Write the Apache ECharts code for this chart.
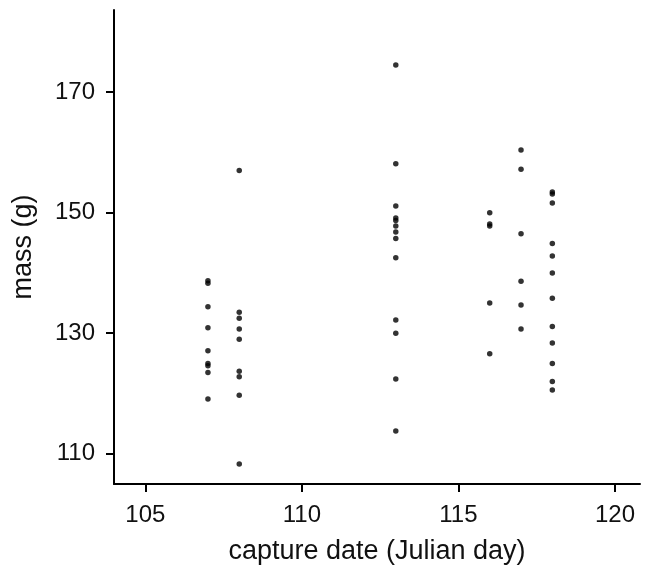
<!DOCTYPE html>
<html>
<head>
<meta charset="utf-8">
<script src="https://cdn.jsdelivr.net/npm/echarts@6/dist/echarts.min.js"></script>
<style>
 html,body{margin:0;padding:0;background:#fff;}
 #chart{width:645px;height:577px;}
</style>
</head>
<body>
<div id="chart"></div>
<script>
 // capture day and mass (g) for each bird, one list per day
 var days = [107, 108, 113, 116, 117, 118];
 var mass107 = [138.7, 138.3, 134.4, 130.9, 127.1, 125.0, 124.6, 123.5, 119.1];
 var mass108 = [157.0, 133.5, 132.5, 130.7, 129.0, 123.7, 122.8, 119.7, 108.3];
 var mass113 = [174.5, 158.1, 151.1, 149.1, 148.7, 147.8, 146.8, 145.7, 142.5, 132.2, 130.0, 122.4, 113.8];
 var mass116 = [150.0, 148.1, 147.8, 135.0, 126.6];
 var mass117 = [160.4, 157.2, 146.5, 138.6, 134.7, 130.7];
 var mass118 = [153.4, 153.1, 151.6, 144.9, 142.8, 140.0, 135.8, 131.1, 128.4, 125.0, 122.0, 120.6];
 var xTicks = [105, 110, 115, 120];
 var yTicks = [110, 130, 150, 170];

 var groups = [mass107, mass108, mass113, mass116, mass117, mass118];
 var points = [];
 for (var i = 0; i < days.length; i++) {
   for (var j = 0; j < groups[i].length; j++) {
     points.push([days[i], groups[i][j]]);
   }
 }

 var txt = '#111';
 var myChart = echarts.init(document.getElementById('chart'));
 var option = {
   animation: false,
   backgroundColor: '#fff',
   grid: { left: 114, right: 5, top: 10, bottom: 93 },
   xAxis: {
     type: 'value',
     min: 104, max: 120.8,
     name: 'capture date (Julian day)',
     nameLocation: 'middle',
     nameGap: 54,
     nameTextStyle: { fontFamily: 'Liberation Sans', fontSize: 27, color: txt },
     axisLine: { show: true, lineStyle: { color: '#000', width: 2 } },
     axisTick: { show: true, length: 8, customValues: xTicks, lineStyle: { color: '#000', width: 2 } },
     axisLabel: { customValues: xTicks, margin: 19, fontFamily: 'Liberation Sans', fontSize: 24, color: txt },
     splitLine: { show: false }
   },
   yAxis: {
     type: 'value',
     min: 105, max: 183.6,
     name: 'mass (g)',
     nameLocation: 'middle',
     nameGap: 77,
     nameTextStyle: { fontFamily: 'Liberation Sans', fontSize: 27, color: txt },
     axisLine: { show: true, lineStyle: { color: '#000', width: 2 } },
     axisTick: { show: true, length: 8, customValues: yTicks, lineStyle: { color: '#000', width: 2 } },
     axisLabel: { customValues: yTicks, margin: 19, fontFamily: 'Liberation Sans', fontSize: 24, color: txt },
     splitLine: { show: false }
   },
   series: [{
     type: 'scatter',
     symbol: 'circle',
     symbolSize: 5.5,
     itemStyle: { color: '#000' },
     data: points
   }]
 };
 myChart.setOption(option);
</script>
</body>
</html>
